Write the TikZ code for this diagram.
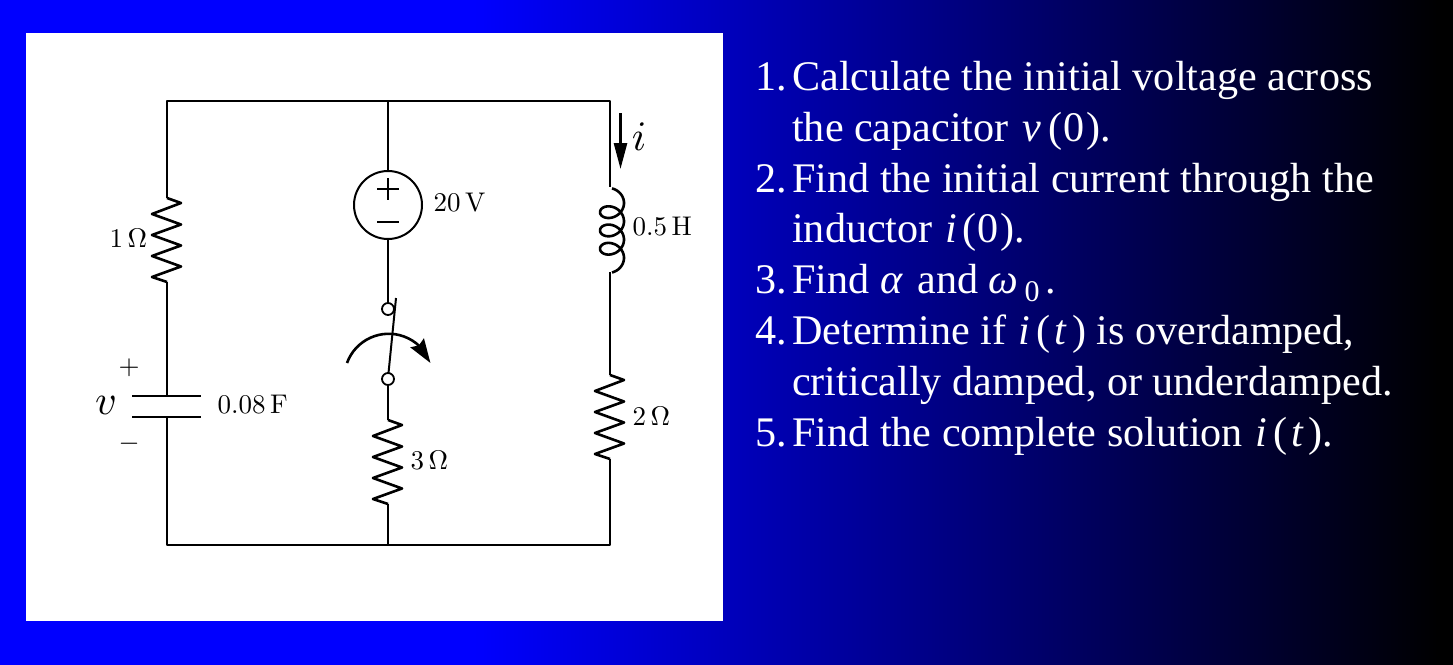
\documentclass[tikz,border=0pt]{standalone}
\usepackage{fontspec}
\usetikzlibrary{arrows.meta,bending}
\newfontfamily\bodyfont{Liberation Serif}
\definecolor{bgA}{RGB}{0,0,255}
\definecolor{bgF}{RGB}{0,0,0}
\pgfdeclarehorizontalshading{slidebg}{100bp}{
  color(0bp)=(bgA); color(25bp)=(bgA); color(41.3bp)=(bgA);
  color(74.6bp)=(bgF); color(75bp)=(bgF); color(100bp)=(bgF)}
\newcommand\resistor[2]{\draw[wire] (#1) -- ++(14,5) -- ++(-29,11) -- ++(29,10.5) -- ++(-29,10.5) -- ++(29,10.5) -- ++(-29,10.5) -- ++(29,10.5) -- ++(-29,10.5) -- (#2);}
\newcommand\mv{\hspace{3pt}\textit{v}\hspace{8pt}}
\newcommand\mi{\hspace{2pt}\textit{i}\hspace{6pt}}
\newcommand\mt{\hspace{4pt}\textit{t}\hspace{5pt}}
\newcommand\mz{(\hspace{1pt}0\hspace{1pt})}
\tikzset{
  wire/.style={line width=2.6pt,black,line join=round},
  term/.style={circle,draw=black,fill=white,line width=1.8pt,minimum size=12pt,inner sep=0pt},
  vsrc/.style={circle,draw=black,line width=2pt,minimum size=68pt,inner sep=0pt},
  tag/.style={inner sep=0pt,black,scale=2.7},
  bigtag/.style={inner sep=0pt,black,scale=4.2},
  item/.style={anchor=base west,inner sep=0pt,text=white,font=\fontsize{42.15}{44}\selectfont\bodyfont},
}
\begin{document}
\begin{tikzpicture}[x=1pt,y=-1pt]
\useasboundingbox (0,0) rectangle (1453,664);
\shade[shading=slidebg] (0,0) rectangle (1453,664);
\fill[white] (26,33) rectangle (723,621);
% coordinates
\coordinate (tl) at (167,101); \coordinate (tm) at (388,101); \coordinate (tr) at (610,101);
\coordinate (bl) at (167,545); \coordinate (bm) at (388,545); \coordinate (br) at (610,545);
\coordinate (r1t) at (167,198); \coordinate (r1b) at (167,282);
\coordinate (r2t) at (610,375); \coordinate (r2b) at (610,459);
\coordinate (r3t) at (388,420); \coordinate (r3b) at (388,504);
\coordinate (ct) at (167,396); \coordinate (cb) at (167,417);
\coordinate (ctl) at (132,396); \coordinate (ctr) at (201,396);
\coordinate (cbl) at (132,417); \coordinate (cbr) at (201,417);
\coordinate (lt) at (610,187); \coordinate (lb) at (610,272);
\node[vsrc] (src) at (388,205) {};
\coordinate (bladeT) at (396,298); \coordinate (bladeB) at (388.5,373);
\coordinate (ia) at (620.5,113); \coordinate (ib) at (620.5,169);
% wires
\draw[wire] (r1t) -- (tl) -- (tr) -- (lt);
\draw[wire] (tm) -- (src);
\draw[wire] (r3b) -- (bm);
\draw[wire] (r1b) -- (ct);
\draw[wire] (cb) -- (bl) -- (br) -- (r2b);
\draw[wire] (lb) -- (r2t);
\draw[wire] (ctl) -- (ctr);
\draw[wire] (cbl) -- (cbr);
\resistor{r1t}{r1b}
\resistor{r2t}{r2b}
\resistor{r3t}{r3b}
\draw[wire,smooth] plot[domain=-90:1170,samples=120] ({612+12*cos(\x)},{203+18.3/360*\x+10*sin(\x)});
% source signs
\draw[wire] (377,189) -- (399,189) (388,178) -- (388,200);
\draw[wire] (377,222) -- (399,222);
% switch
\node[term] (sa) at (388,309) {};
\node[term] (sb) at (388,379) {};
\draw[wire] (src) -- (sa);
\draw[wire] (sb) -- (r3t);
\draw[line width=2pt,black] (bladeT) -- (bladeB);
\draw[wire,-{Stealth[length=24pt,width=16pt,inset=3pt,flex]}] (347,363) arc[start angle=200,end angle=340,radius=44.4];
% current arrow
\draw[wire,-{Stealth[length=26pt,width=13pt,inset=0pt]}] (ia) -- (ib);
% labels
\node[bigtag] (li) at (639,137) {$i$};
\node[bigtag] (lv) at (106,405) {$v$};
\node[tag] (lp) at (129,368) {$+$};
\node[tag] (lm) at (129,444) {$-$};
\node[tag,anchor=west] (l1) at (109,238) {1\,$\Omega$};
\node[tag,anchor=west] (l2) at (217,405) {0.08\,F};
\node[tag,anchor=west] (l3) at (433,203) {20\,V};
\node[tag,anchor=west] (l4) at (632,227) {0.5\,H};
\node[tag,anchor=west] (l5) at (632,416) {2\,$\Omega$};
\node[tag,anchor=west] (l6) at (410,461) {3\,$\Omega$};
% list
\node[item] (n1) at (755,90.5) {1.};
\node[item] (t1) at (792,90.5) {Calculate the initial voltage across};
\node[item] (t1b) at (792,141.3) {the capacitor \mv\mz.};
\node[item] (n2) at (755,192.1) {2.};
\node[item] (t2) at (792,192.1) {Find the initial current through the};
\node[item] (t2b) at (792,242.9) {inductor \mi\mz.};
\node[item] (n3) at (755,293.7) {3.};
\node[item] (t3) at (792,293.7) {Find \textit{α}\hspace{4pt} and \textit{ω}\hspace{6pt}\raisebox{-8pt}{\fontsize{30}{32}\selectfont 0}\hspace{6pt}.};
\node[item] (n4) at (755,344.5) {4.};
\node[item] (t4) at (792,344.5) {Determine if \mi(\mt) is overdamped,};
\node[item] (t4b) at (792,395.3) {critically damped, or underdamped.};
\node[item] (n5) at (755,446.1) {5.};
\node[item] (t5) at (792,446.1) {Find the complete solution \mi(\mt).};
\end{tikzpicture}
\end{document}
